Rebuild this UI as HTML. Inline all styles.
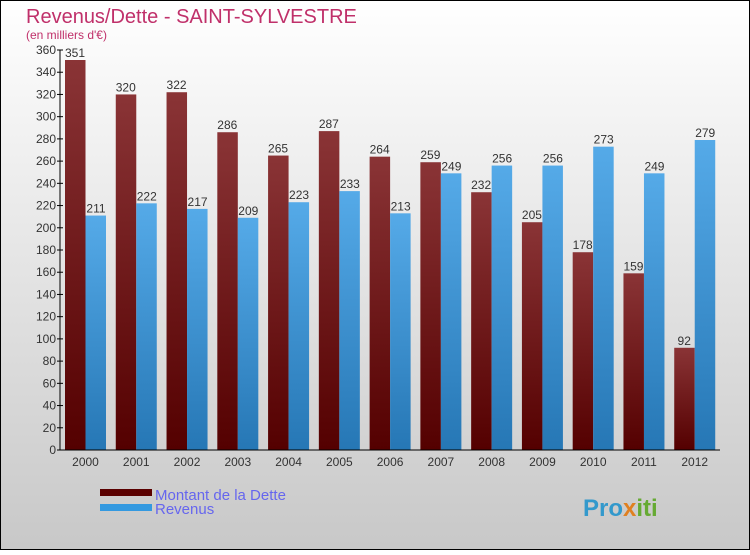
<!DOCTYPE html>
<html><head><meta charset="utf-8"><style>
body{margin:0}
#c{width:750px;height:550px;position:relative;font-family:"Liberation Sans",sans-serif}
</style></head><body>
<div id="c">
<svg id="s" width="750" height="550" xmlns="http://www.w3.org/2000/svg">
<defs>
<linearGradient id="bg" x1="0" y1="0" x2="0" y2="1"><stop offset="0" stop-color="#ffffff"/><stop offset="1" stop-color="#c8c8c8"/></linearGradient>
<linearGradient id="gd" x1="0" y1="0" x2="0" y2="1"><stop offset="0" stop-color="#8a3436"/><stop offset="1" stop-color="#540000"/></linearGradient>
<linearGradient id="gr" x1="0" y1="0" x2="0" y2="1"><stop offset="0" stop-color="#55aae8"/><stop offset="1" stop-color="#2677b5"/></linearGradient>
</defs>
<rect x="0.5" y="0.5" width="749" height="549" fill="url(#bg)" stroke="#000"/>
<text x="26" y="23" font-size="20" fill="#c0306a">Revenus/Dette - SAINT-SYLVESTRE</text>
<text x="26" y="39" font-size="12" fill="#c0306a">(en milliers d'€)</text>
<g id="plot"></g>
<rect x="100" y="489" width="52" height="7" fill="#5a0000"/>
<rect x="100" y="504" width="52" height="7" fill="#3399e0"/>
<text x="155" y="500" font-size="15" fill="#6666ee">Montant de la Dette</text>
<text x="155" y="514" font-size="15" fill="#6666ee">Revenus</text>
<text x="583" y="516" font-size="24" font-weight="bold" fill="#3399cc">Pro<tspan fill="#e08020">x</tspan><tspan fill="#66aa33">iti</tspan></text>
</svg>
</div>
<script>
const years=["2000","2001","2002","2003","2004","2005","2006","2007","2008","2009","2010","2011","2012"];
const dette=[351,320,322,286,265,287,264,259,232,205,178,159,92];
const revenus=[211,222,217,209,223,233,213,249,256,256,273,249,279];
const ticks=[0,20,40,60,80,100,120,140,160,180,200,220,240,260,280,300,320,340,360];
const NS="http://www.w3.org/2000/svg";
const g=document.getElementById('plot');
const x0=60,x1=720,yb=450,yt=50,ymax=360;
const y=v=>yb-(v/ymax)*(yb-yt);
const gw=(x1-x0)/years.length;
function el(t,a,txt){const e=document.createElementNS(NS,t);for(const k in a)e.setAttribute(k,a[k]);if(txt!==undefined)e.textContent=txt;g.appendChild(e);return e;}
ticks.forEach(t=>{
 const l=el('line',{x1:x0-3,x2:x0+3,y1:y(t),y2:y(t),stroke:'#000'});
 
 const tx=el('text',{x:x0-4,y:y(t)+4,'font-size':12,'text-anchor':'end',fill:'#333'},t);
 
});
years.forEach((yr,i)=>{
 const gx=x0+i*gw;
 const bd=el('rect',{x:gx+5,y:y(dette[i]),width:20.5,height:yb-y(dette[i]),fill:'url(#gd)'});
 
 const br=el('rect',{x:gx+25.5,y:y(revenus[i]),width:20.5,height:yb-y(revenus[i]),fill:'url(#gr)'});
 
 const ld=el('text',{x:gx+15,y:y(dette[i])-3,'font-size':12,'text-anchor':'middle',fill:'#333'},dette[i]);
 
 const lr=el('text',{x:gx+36,y:y(revenus[i])-3,'font-size':12,'text-anchor':'middle',fill:'#333'},revenus[i]);
 
 const xl=el('text',{x:gx+25.5,y:466,'font-size':12,'text-anchor':'middle',fill:'#333'},yr);
 
});
const ya=el('line',{x1:x0,x2:x0,y1:yt,y2:yb,stroke:'#000'});

const xa=el('line',{x1:x0,x2:x1,y1:yb,y2:yb,stroke:'#000'});

</script>
</body></html>
